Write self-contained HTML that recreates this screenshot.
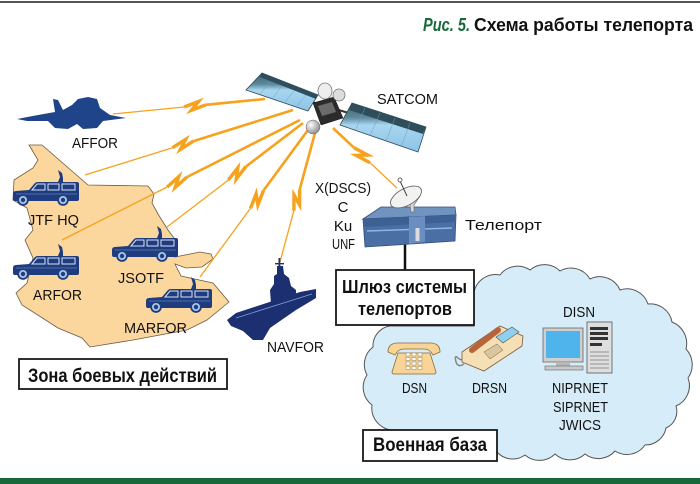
<!DOCTYPE html>
<html><head><meta charset="utf-8">
<style>html,body{margin:0;padding:0;background:#fff}svg{display:block}</style>
</head><body>
<svg width="700" height="484" viewBox="0 0 700 484" xmlns="http://www.w3.org/2000/svg" font-family="'Liberation Sans', sans-serif">
<defs>
  <g id="car">
    <path d="M3,9 L16,8 L22,1 Q23,0 25,0 L64,0 Q66,0 66,2 L66,17 Q66,19 64,19 L2,19 Q0,19 0,17 L0,12 Q0,9 3,9 Z" fill="#1e3c7e"/>
    <path d="M19,8 L24,2 L32,2 L32,8 Z M35,2 H46 V8 H35 Z M49,2 H62 V8 H49 Z" fill="none" stroke="#d6e4f5" stroke-width="1"/>
    <path d="M3,12 H64" stroke="#5d7fb8" stroke-width="0.8"/>
    <circle cx="10" cy="18" r="5.8" fill="#1e3c7e"/><circle cx="10" cy="18" r="4" fill="#a9c6ea"/><circle cx="10" cy="18" r="2.2" fill="#1e3c7e"/>
    <circle cx="50" cy="18" r="5.8" fill="#1e3c7e"/><circle cx="50" cy="18" r="4" fill="#a9c6ea"/><circle cx="50" cy="18" r="2.2" fill="#1e3c7e"/>
    <path d="M45,0 L47,-5 L45,-12 L49,-9 L50,-4 L50,0 Z" fill="#1e3c7e"/>
  </g>
  <radialGradient id="sph" cx="0.35" cy="0.35" r="0.7">
    <stop offset="0" stop-color="#ffffff"/><stop offset="1" stop-color="#8a8a8a"/>
  </radialGradient>
  <linearGradient id="pan" x1="0" y1="0" x2="0" y2="1">
    <stop offset="0" stop-color="#3d6070"/><stop offset="0.3" stop-color="#5d8a9c"/><stop offset="0.45" stop-color="#a8d6f0"/><stop offset="1" stop-color="#8cc4e6"/>
  </linearGradient>
</defs>

<!-- top rule and bottom band -->
<rect x="0" y="1" width="700" height="2" fill="#555"/>
<rect x="0" y="478" width="700" height="6" fill="#17693c"/>

<!-- title -->
<text x="423" y="31" font-size="18" font-weight="bold" font-style="italic" fill="#17693c" textLength="47" lengthAdjust="spacingAndGlyphs">Рис. 5.</text>
<text x="474" y="31" font-size="18" font-weight="bold" fill="#111" textLength="219" lengthAdjust="spacingAndGlyphs">Схема работы телепорта</text>

<!-- combat zone -->
<polygon points="29,145 42,145 88,185 148,186 154,194 152,203 158,214 168,230 177,242 175,257 200,252 211,254 213,259 202,267 186,268 175,264 181,276 213,283 229,302 207,320 187,330 133,340 90,347 82,338 58,328 22,305 16,293 27,283 33,258 25,240 33,230 27,208 13,200 14,180 33,168 38,160" fill="#fbd79e" stroke="#6b5a45" stroke-width="0.8"/>

<!-- beams -->
<g stroke="#f6a21c" fill="none" stroke-linejoin="miter">
  <line x1="113" y1="114" x2="184.1" y2="107" stroke-width="1.3"/>
  <line x1="205.9" y1="104.8" x2="265" y2="99" stroke-width="2.6"/>
  <polyline points="184.1,107 198.6,101.5 191.4,110.3 205.9,104.8" stroke-width="3.4"/>
  <line x1="85" y1="175" x2="172.5" y2="147.7" stroke-width="1.3"/>
  <line x1="193.5" y1="141.1" x2="293" y2="110" stroke-width="2.6"/>
  <polyline points="172.5,147.7 185.6,139.4 180.4,149.4 193.5,141.1" stroke-width="3.4"/>
  <line x1="62" y1="240" x2="167.2" y2="187" stroke-width="1.3"/>
  <line x1="186.8" y1="177.1" x2="300" y2="120" stroke-width="2.6"/>
  <polyline points="167.2,187 178.8,176.6 175.2,187.4 186.8,177.1" stroke-width="3.4"/>
  <line x1="167" y1="227" x2="228.3" y2="180.1" stroke-width="1.3"/>
  <line x1="245.7" y1="166.7" x2="303" y2="123" stroke-width="2.6"/>
  <polyline points="228.3,180.1 237.8,167.8 236.3,179 245.7,166.7" stroke-width="3.4"/>
  <line x1="200" y1="277" x2="250.5" y2="208.3" stroke-width="1.3"/>
  <line x1="263.5" y1="190.5" x2="308" y2="130" stroke-width="2.6"/>
  <polyline points="250.5,208.3 256.1,193.8 257.9,205 263.5,190.5" stroke-width="3.4"/>
  <line x1="280" y1="262" x2="293.9" y2="210.6" stroke-width="1.3"/>
  <line x1="299.7" y1="189.4" x2="315" y2="133" stroke-width="2.6"/>
  <polyline points="293.9,210.6 294,195.1 299.6,204.9 299.7,189.4" stroke-width="3.4"/>
  <line x1="397" y1="188" x2="370" y2="162.7" stroke-width="1.3"/>
  <line x1="354" y1="147.7" x2="333" y2="128" stroke-width="2.6"/>
  <polyline points="370,162.7 356.3,155.4 367.7,155 354,147.7" stroke-width="3.4"/>
</g>

<!-- satellite -->
<g>
  <line x1="305" y1="100" x2="352" y2="114" stroke="#333" stroke-width="2"/>
  <polygon points="262,73 318,95 308,111 246,90" fill="url(#pan)" stroke="#2e4a55" stroke-width="0.8"/>
  <polygon points="262,73 318,95 316,99 260,77" fill="#2f4e5c"/>
  <polygon points="352,103 426,127 418,152 340,125" fill="url(#pan)" stroke="#2e4a55" stroke-width="0.8"/>
  <polygon points="352,103 426,127 423,134 349,110" fill="#2f4e5c"/>
  <g stroke="#6f9fb8" stroke-width="0.5">
    <line x1="270" y1="82" x2="260" y2="94"/><line x1="282" y1="86" x2="272" y2="99"/><line x1="294" y1="91" x2="284" y2="103"/><line x1="306" y1="95" x2="296" y2="107"/>
    <line x1="365" y1="108" x2="355" y2="131"/><line x1="380" y1="113" x2="370" y2="136"/><line x1="395" y1="118" x2="386" y2="141"/><line x1="410" y1="123" x2="401" y2="147"/>
  </g>
  <polygon points="313,103 334,97 343,118 321,125" fill="#2b2b2b" stroke="#111" stroke-width="0.5"/>
  <polygon points="318,106 332,102 336,112 322,116" fill="#6b6b6b"/>
  <ellipse cx="325" cy="91" rx="7" ry="8" fill="#eeeeee" stroke="#777" stroke-width="0.8"/>
  <ellipse cx="339" cy="95" rx="6" ry="6" fill="#dcdcdc" stroke="#777" stroke-width="0.8"/>
  <circle cx="313" cy="127" r="7" fill="url(#sph)" stroke="#666" stroke-width="0.5"/>
</g>
<text x="377" y="104" font-size="15" fill="#111" textLength="61" lengthAdjust="spacingAndGlyphs">SATCOM</text>

<!-- plane -->
<polygon points="17,119 38,115 55,112 53,99 58,100 63,110 72,105 78,99 88,97 97,99 100,108 110,115 126,118 103,121 97,128 83,129 77,124 68,129 55,128 48,121 27,121" fill="#1f4489"/>
<text x="72" y="148" font-size="15" fill="#111" textLength="46" lengthAdjust="spacingAndGlyphs">AFFOR</text>

<!-- vehicles -->
<use href="#car" transform="translate(13,182)"/>
<use href="#car" transform="translate(13,256)"/>
<use href="#car" transform="translate(112,238)"/>
<use href="#car" transform="translate(146,289)"/>
<text x="28" y="225" font-size="15" fill="#111" textLength="51" lengthAdjust="spacingAndGlyphs">JTF HQ</text>
<text x="33" y="300" font-size="15" fill="#111" textLength="49" lengthAdjust="spacingAndGlyphs">ARFOR</text>
<text x="118" y="283" font-size="15" fill="#111" textLength="46" lengthAdjust="spacingAndGlyphs">JSOTF</text>
<text x="124" y="333" font-size="15" fill="#111" textLength="63" lengthAdjust="spacingAndGlyphs">MARFOR</text>

<!-- ship -->
<g fill="#1c2f70">
  <polygon points="227,320 236,313 300,292 316,289 316,298 296,310 270,328 263,340 253,340 243,331 231,326"/>
  <polygon points="271,304 270,290 274,284 274,276 277,274 277,266 283,266 284,274 289,278 291,286 296,290 296,298"/>
  <rect x="278.5" y="258" width="1.8" height="10"/>
  <rect x="275" y="263" width="9" height="1.4"/>
</g>
<line x1="236" y1="318" x2="312" y2="294" stroke="#7fa2d6" stroke-width="0.8"/>
<text x="267" y="352" font-size="15" fill="#111" textLength="57" lengthAdjust="spacingAndGlyphs">NAVFOR</text>

<!-- frequency labels -->
<text x="315" y="193" font-size="15" fill="#111" textLength="56" lengthAdjust="spacingAndGlyphs">X(DSCS)</text>
<text x="343" y="212" font-size="15" fill="#111" text-anchor="middle">C</text>
<text x="343" y="231" font-size="15" fill="#111" text-anchor="middle">Ku</text>
<text x="332" y="249" font-size="15" fill="#111" textLength="23" lengthAdjust="spacingAndGlyphs">UNF</text>

<!-- teleport -->
<line x1="405" y1="244" x2="405" y2="271" stroke="#111" stroke-width="2.5"/>
<polygon points="363,219 381,207 455,207 456,215" fill="#7193bf" stroke="#34507a" stroke-width="0.8"/>
<polygon points="363,219 456,215 455,241 365,247" fill="#4a6fa4" stroke="#34507a" stroke-width="0.8"/>
<polygon points="363,219 456,215 456,222 363,227" fill="#3d6195"/>
<line x1="367" y1="231" x2="452" y2="228" stroke="#8fb6e2" stroke-width="1.5"/>
<polygon points="409,217 425,216 425,242 409,244" fill="#6a8ec0"/>
<rect x="415.5" y="228" width="4" height="13" fill="#dcdcdc"/>
<polygon points="403,200 420,196 414,205 414,212 411,212 410,205" fill="#d8d8d8" stroke="#777" stroke-width="0.7"/>
<ellipse cx="406" cy="197" rx="17" ry="8.5" transform="rotate(-28 406 197)" fill="#f2f2f2" stroke="#666" stroke-width="0.9"/>
<line x1="400" y1="181" x2="407" y2="196" stroke="#444" stroke-width="1"/>
<circle cx="400" cy="180" r="2" fill="#fff" stroke="#444" stroke-width="0.8"/>
<text x="465" y="230" font-size="15" fill="#111" textLength="77" lengthAdjust="spacingAndGlyphs">Телепорт</text>

<!-- cloud -->
<path d="M474,292 A22,22 0 0 1 500,275 A22,22 0 0 1 530,270 A22,22 0 0 1 560,271 A22,22 0 0 1 590,279 A22,22 0 0 1 620,290 A22,22 0 0 1 648,304 A22,22 0 0 1 672,322 A23,23 0 0 1 686,349 A23,23 0 0 1 688,378 A22,22 0 0 1 676,406 A18,18 0 0 1 666,428 A21,21 0 0 1 645,445 A22,22 0 0 1 615,451 A22,22 0 0 1 585,454 A22,22 0 0 1 555,454 A22,22 0 0 1 525,455 A21,21 0 0 1 497,452 L420,448 L395,430 A22,22 0 0 1 372,405 A22,22 0 0 1 367,375 A22,22 0 0 1 373,347 A20,20 0 0 1 390,326 L474,326 Z" fill="#d6ecf8" stroke="#555" stroke-width="1"/>

<!-- gateway box -->
<rect x="336" y="270" width="138" height="55" fill="#fff" stroke="#1a1a1a" stroke-width="1.8"/>
<text x="342" y="293" font-size="18" font-weight="bold" fill="#111" textLength="125" lengthAdjust="spacingAndGlyphs">Шлюз системы</text>
<text x="358" y="315" font-size="18" font-weight="bold" fill="#111" textLength="94" lengthAdjust="spacingAndGlyphs">телепортов</text>

<!-- DSN phone -->
<path d="M398,353 L430,353 L436,372 Q436,374 434,374 L394,374 Q392,374 392,372 Z" fill="#f8d597" stroke="#8a6a3a" stroke-width="0.8"/>
<path d="M388,352 Q388,343 398,343 L430,343 Q440,343 440,352 L433,355 Q430,349 424,349 L404,349 Q398,349 395,355 Z" fill="#f8d597" stroke="#8a6a3a" stroke-width="0.8"/>
<g fill="#fff" stroke="#9a7a4a" stroke-width="0.5">
  <rect x="406" y="353" width="4" height="3"/><rect x="412" y="353" width="4" height="3"/><rect x="418" y="353" width="4" height="3"/>
  <rect x="406" y="357.5" width="4" height="3"/><rect x="412" y="357.5" width="4" height="3"/><rect x="418" y="357.5" width="4" height="3"/>
  <rect x="406" y="362" width="4" height="3"/><rect x="412" y="362" width="4" height="3"/><rect x="418" y="362" width="4" height="3"/>
  <rect x="406" y="366.5" width="4" height="3"/><rect x="412" y="366.5" width="4" height="3"/><rect x="418" y="366.5" width="4" height="3"/>
</g>
<text x="402" y="393" font-size="15" fill="#111" textLength="25" lengthAdjust="spacingAndGlyphs">DSN</text>

<!-- DRSN phone -->
<path d="M478,352 Q470,350 466,356 Q462,362 458,358 Q454,354 456,362 Q458,368 464,364" fill="none" stroke="#888" stroke-width="1.5"/>
<polygon points="462,352 500,326 523,336 522,346 484,371 462,362" fill="#f4e0b4" stroke="#7a5a3a" stroke-width="0.8"/>
<line x1="472" y1="350" x2="498" y2="330" stroke="#b8643a" stroke-width="6" stroke-linecap="round"/>
<polygon points="496,337 512,327 519,332 503,343" fill="#8fd0ee" stroke="#555" stroke-width="0.6"/>
<polygon points="484,352 497,344 503,350 490,359" fill="#d8c6a0" stroke="#7a5a3a" stroke-width="0.5"/>
<text x="472" y="393" font-size="15" fill="#111" textLength="35" lengthAdjust="spacingAndGlyphs">DRSN</text>

<!-- computer -->
<rect x="543" y="328" width="40" height="34" fill="#cfcfcf" stroke="#666" stroke-width="0.8"/>
<rect x="546" y="331" width="34" height="27" fill="#4fb3ec"/>
<rect x="556" y="362" width="14" height="5" fill="#b8b8b8"/>
<rect x="545" y="366" width="38" height="4" fill="#c8c8c8" stroke="#666" stroke-width="0.6"/>
<rect x="587" y="322" width="25" height="51" fill="#dedede" stroke="#555" stroke-width="0.8"/>
<g fill="#333">
  <rect x="590" y="327" width="18" height="3"/><rect x="590" y="332" width="18" height="3"/><rect x="590" y="337" width="18" height="3"/><rect x="590" y="343" width="12" height="3"/>
</g>
<g stroke="#777" stroke-width="0.7">
  <line x1="590" y1="352" x2="609" y2="352"/><line x1="590" y1="356" x2="609" y2="356"/><line x1="590" y1="360" x2="609" y2="360"/><line x1="590" y1="364" x2="609" y2="364"/><line x1="590" y1="368" x2="609" y2="368"/>
</g>
<text x="563" y="317" font-size="15" fill="#111" textLength="32" lengthAdjust="spacingAndGlyphs">DISN</text>
<text x="552" y="393" font-size="15" fill="#111" textLength="56" lengthAdjust="spacingAndGlyphs">NIPRNET</text>
<text x="553" y="412" font-size="15" fill="#111" textLength="55" lengthAdjust="spacingAndGlyphs">SIPRNET</text>
<text x="559" y="430" font-size="15" fill="#111" textLength="42" lengthAdjust="spacingAndGlyphs">JWICS</text>

<!-- military base label -->
<rect x="363" y="430" width="134" height="31" fill="#fff" stroke="#1a1a1a" stroke-width="1.8"/>
<text x="373" y="451" font-size="19" font-weight="bold" fill="#111" textLength="114" lengthAdjust="spacingAndGlyphs">Военная база</text>

<!-- combat zone label -->
<rect x="19" y="359" width="208" height="30" fill="#fff" stroke="#1a1a1a" stroke-width="1.8"/>
<text x="28" y="382" font-size="19" font-weight="bold" fill="#111" textLength="189" lengthAdjust="spacingAndGlyphs">Зона боевых действий</text>
</svg>
</body></html>
